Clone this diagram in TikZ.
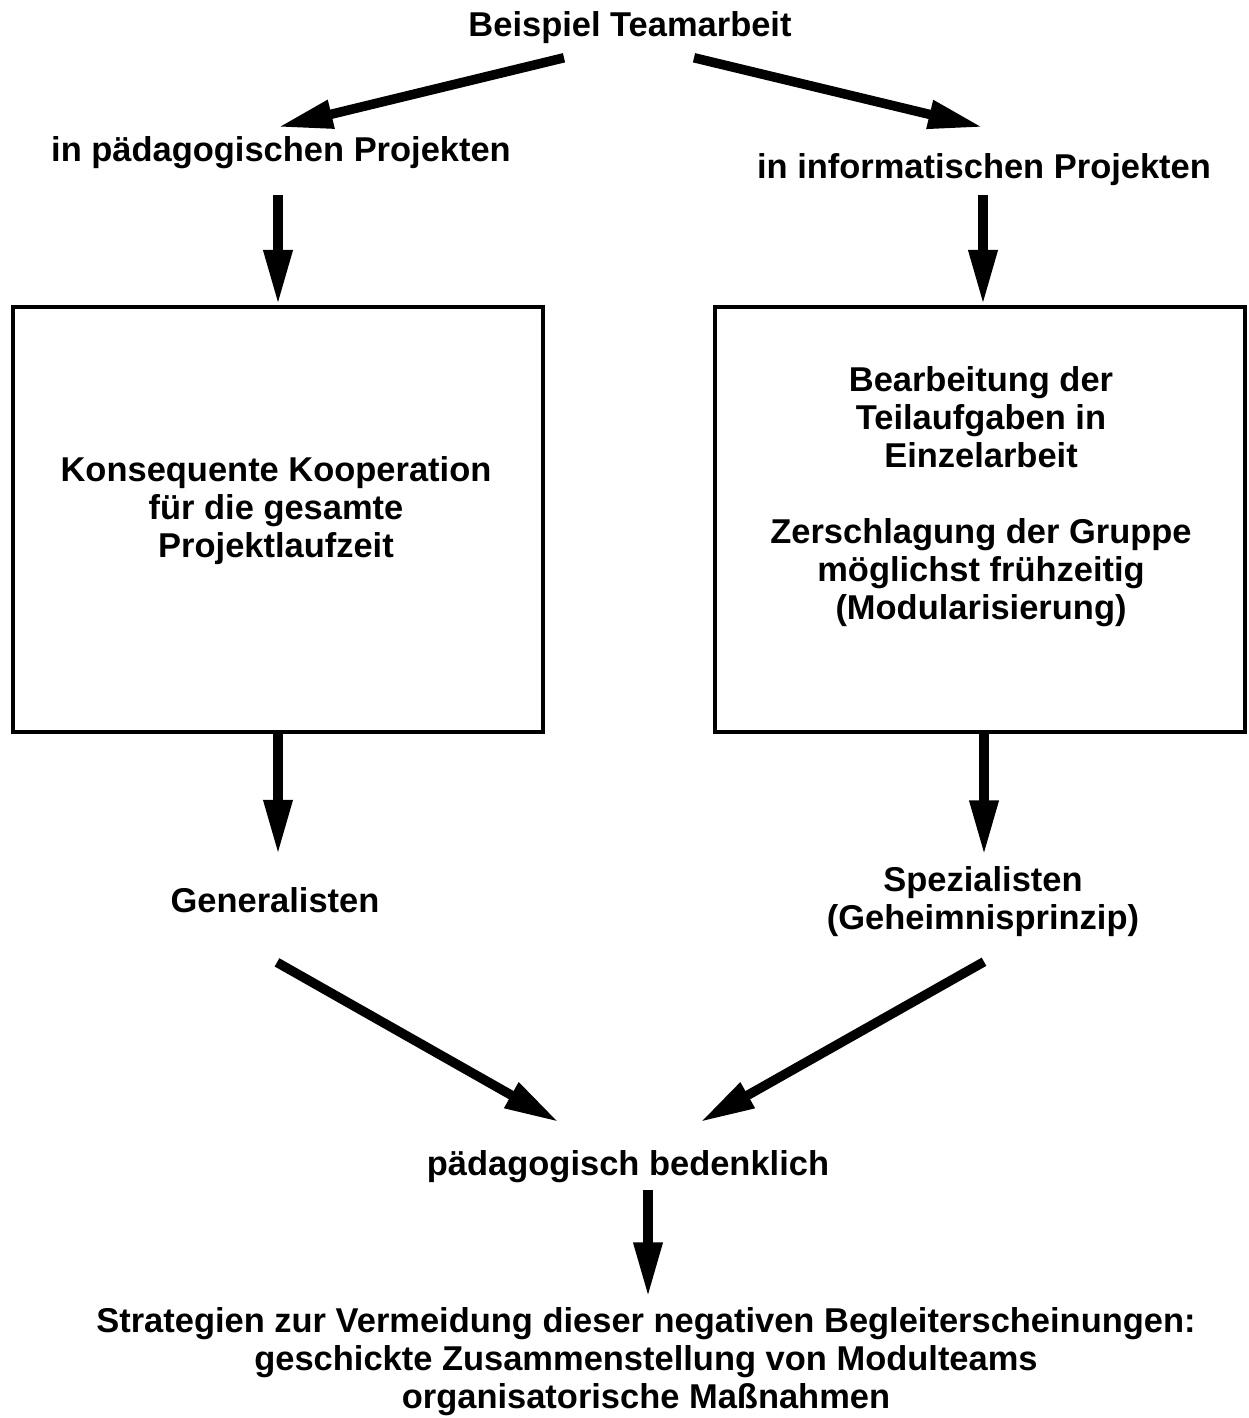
\documentclass[tikz,border=0pt]{standalone}
\usepackage{fontspec}
\setmainfont{Liberation Sans}
\usetikzlibrary{arrows.meta,calc}

\begin{document}
\begin{tikzpicture}[x=0.01cm,y=-0.01cm,
    every node/.style={font=\fontsize{9.8}{10.8}\selectfont\bfseries,align=center,inner sep=0pt},
    pfeil/.style={line width=2.7pt,-{Triangle[length=15.6pt,width=7.7pt]}},
    kasten/.style={draw,line width=1.15pt,minimum width=5.29cm,minimum height=4.25cm}]
\useasboundingbox (0,0) rectangle (1248,1418);

\node (title) at (630,28) {Beispiel Teamarbeit};
\node (paed) at (281,153) {in pädagogischen Projekten};
\node (info) at (984,170) {in informatischen Projekten};

\node[kasten] (kasten1) at (278,519.5) {};
\node[kasten] (kasten2) at (980,519.5) {};
\node (koop) at (276,511) {Konsequente Kooperation\\für die gesamte\\Projektlaufzeit};
\node (einzel) at (981,497) {Bearbeitung der\\Teilaufgaben in\\Einzelarbeit\\[10.8pt]
    Zerschlagung der Gruppe\\möglichst frühzeitig\\(Modularisierung)};

\node (gen) at (275,900) {Generalisten};
\node (spez) at (983,902) {Spezialisten\\(Geheimnisprinzip)};
\node (bed) at (628,1167) {pädagogisch bedenklich};
\node (strat) at (646,1362) {Strategien zur Vermeidung dieser negativen Begleiterscheinungen:\\
    geschickte Zusammenstellung von Modulteams\\organisatorische Maßnahmen};

\draw[pfeil] ($(title.south)+(-66,13)$) -- ($(paed.north)+(-3,-9)$);
\draw[pfeil] ($(title.south)+(64,13)$) -- ($(info.north)+(-1,-26)$);
\draw[pfeil] ($(kasten1.north |- paed.south)+(0,25)$) -- (kasten1.north);
\draw[pfeil] ($(info.south)+(-1,8)$) -- ($(kasten2.north)+(3,0)$);
\draw[pfeil] (kasten1.south) -- ($(kasten1.south |- gen.north)+(0,-32)$);
\draw[pfeil] ($(kasten2.south)+(4,0)$) -- ($(spez.north)+(1,-11)$);
\draw[pfeil] ($(gen.south)+(2,49)$) -- ($(bed.north)+(-69,-28)$);
\draw[pfeil] ($(spez.south)+(1,24)$) -- ($(bed.north)+(72,-28)$);
\draw[pfeil] ($(bed.south)+(20,6)$) -- ($(strat.north)+(2,-10)$);
\end{tikzpicture}
\end{document}
